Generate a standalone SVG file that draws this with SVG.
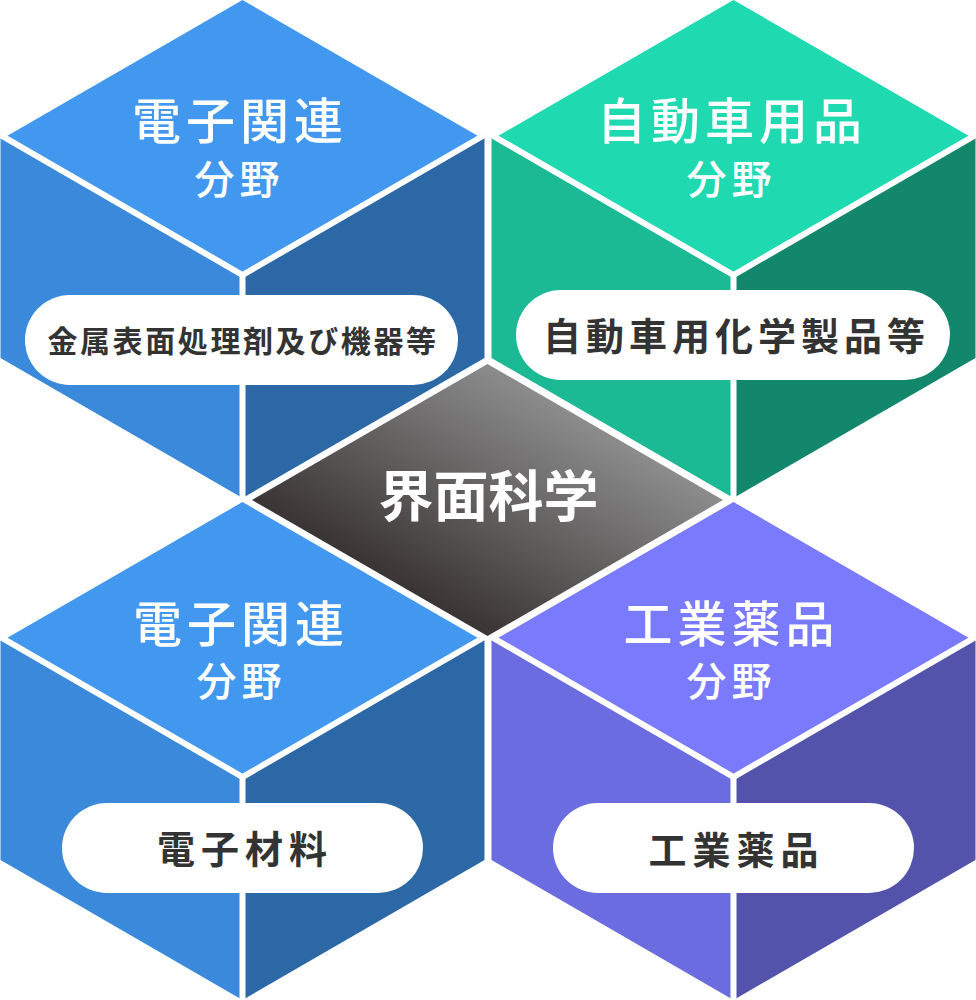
<svg xmlns="http://www.w3.org/2000/svg" width="976" height="1000" viewBox="0 0 976 1000">
  <defs>
    <linearGradient id="gCenter" x1="0" y1="1" x2="1" y2="0">
      <stop offset="0.25" stop-color="#3a3534"/>
      <stop offset="0.75" stop-color="#8c8c8c"/>
    </linearGradient>
    <style>
      .sep { fill: none; stroke: #ffffff; stroke-width: 6; stroke-linejoin: miter; }
      .pill { fill: #ffffff; }
      .title { font-family: "Noto Sans CJK JP", "Noto Sans", sans-serif; font-weight: 500; fill: #ffffff; text-anchor: middle; }
      .t1 { font-size: 49px; letter-spacing: 5px; }
      .t2 { font-size: 40px; letter-spacing: 5px; }
      .label { font-family: "Noto Sans CJK JP", "Noto Sans", sans-serif; font-weight: 700; fill: #333333; text-anchor: middle; }
      .center { font-family: "Noto Sans CJK JP", "Noto Sans", sans-serif; font-weight: 700; fill: #ffffff; text-anchor: middle; font-size: 55px; }
      .blueT { fill: #4298ef; } .blueL { fill: #3a89da; } .blueR { fill: #2c68a6; }
      .greenT { fill: #1fd9b1; } .greenL { fill: #1bb994; } .greenR { fill: #13876c; }
      .purpT { fill: #7a7afc; } .purpL { fill: #6b6ce0; } .purpR { fill: #5353ac; }
    </style>
  </defs>
  <rect width="976" height="1000" fill="#ffffff"/>

  <!-- Top-left cube -->
  <g id="cube-electronics-top">
    <polygon class="blueT" points="242.5,0 484.5,139.7 242.5,279.4 0.5,139.7"/>
    <polygon class="blueL" points="0.5,135 242.5,275 242.5,498 0.5,358"/>
    <polygon class="blueR" points="242.5,275 484.5,135 484.5,358 242.5,498"/>
    <polyline class="sep" points="0.5,135 242.5,275 484.5,135"/>
    <line class="sep" x1="242.5" y1="275" x2="242.5" y2="500"/>
    <text class="title t1" x="240" y="139">電子関連</text>
    <text class="title t2" x="239.5" y="194">分野</text>
    <rect class="pill" x="25" y="295" width="433" height="90" rx="45"/>
    <text class="label" x="243" y="351.5" font-size="30" letter-spacing="2.6">金属表面処理剤及び機器等</text>
  </g>

  <!-- Top-right cube -->
  <g id="cube-automotive">
    <polygon class="greenT" points="733.5,0 975.5,139.7 733.5,279.4 491.5,139.7"/>
    <polygon class="greenL" points="491.5,135 733.5,275 733.5,498 491.5,358"/>
    <polygon class="greenR" points="733.5,275 975.5,135 975.5,358 733.5,498"/>
    <polyline class="sep" points="491.5,135 733.5,275 975.5,135"/>
    <line class="sep" x1="733.5" y1="275" x2="733.5" y2="500"/>
    <text class="title t1" x="732" y="139" letter-spacing="4">自動車用品</text>
    <text class="title t2" x="731.5" y="194">分野</text>
    <rect class="pill" x="516" y="290" width="434" height="90" rx="45"/>
    <text class="label" x="736.5" y="350" font-size="38" letter-spacing="5">自動車用化学製品等</text>
  </g>

  <!-- Bottom-left cube -->
  <g id="cube-electronics-bottom">
    <polygon class="blueT" points="242.5,502 484.5,641.7 242.5,781.4 0.5,641.7"/>
    <polygon class="blueL" points="0.5,637 242.5,777 242.5,1000 0.5,860"/>
    <polygon class="blueR" points="242.5,777 484.5,637 484.5,860 242.5,1000"/>
    <polyline class="sep" points="0.5,637 242.5,777 484.5,637"/>
    <line class="sep" x1="242.5" y1="777" x2="242.5" y2="1002"/>
    <text class="title t1" x="241" y="642">電子関連</text>
    <text class="title t2" x="241.5" y="696">分野</text>
    <rect class="pill" x="62" y="803" width="361" height="90" rx="45"/>
    <text class="label" x="245" y="863" font-size="38" letter-spacing="6">電子材料</text>
  </g>

  <!-- Bottom-right cube -->
  <g id="cube-industrial">
    <polygon class="purpT" points="733.5,502 975.5,641.7 733.5,781.4 491.5,641.7"/>
    <polygon class="purpL" points="491.5,637 733.5,777 733.5,1000 491.5,860"/>
    <polygon class="purpR" points="733.5,777 975.5,637 975.5,860 733.5,1000"/>
    <polyline class="sep" points="491.5,637 733.5,777 975.5,637"/>
    <line class="sep" x1="733.5" y1="777" x2="733.5" y2="1002"/>
    <text class="title t1" x="731.5" y="642">工業薬品</text>
    <text class="title t2" x="731.5" y="696">分野</text>
    <rect class="pill" x="553" y="803" width="361" height="90" rx="45"/>
    <text class="label" x="736.5" y="864" font-size="38" letter-spacing="6">工業薬品</text>
  </g>

  <!-- Center diamond -->
  <g id="center-interface-science">
    <polygon fill="url(#gCenter)" points="487.5,364 723,500 487.5,636 252,500"/>
    <text class="center" x="488.5" y="515.5">界面科学</text>
  </g>

  <g id="connectors"></g>
</svg>
